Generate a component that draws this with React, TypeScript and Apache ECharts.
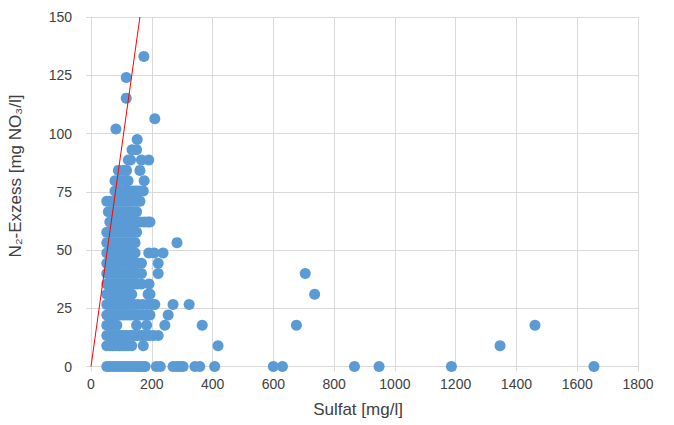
import React, { useEffect, useRef } from "react";
import * as echarts from "echarts";

// N2-Exzess levels (mg NO3/l), one per row of points
const rowLevels: number[] = [
  0, 8.86, 13.29, 17.72, 22.15, 26.58, 31.01, 35.44, 39.87, 44.3, 48.73, 53.16,
  57.59, 62.02, 66.45, 70.88, 75.31, 79.74, 84.17, 88.6, 93.03, 97.46, 101.89,
  106.32, 115.18, 124.04, 133.0,
];

// Sulfat (mg/l) of the points in each row above
const rowSulfat: number[][] = [
  [52, 62, 72, 82, 92, 102, 112, 122, 132, 142, 152, 162, 172, 178, 215, 228, 270, 282, 292, 303, 342, 358, 407, 600, 630, 867, 948, 1186, 1655],
  [52, 62, 72, 82, 92, 102, 112, 122, 134, 172, 418, 1346],
  [52, 62, 72, 82, 92, 102, 112, 122, 132, 142, 152, 162, 172, 182, 192, 205, 221],
  [52, 62, 72, 85, 150, 183, 243, 366, 676, 1461],
  [52, 62, 72, 82, 92, 102, 112, 122, 132, 142, 152, 162, 172, 183, 194, 254],
  [52, 62, 72, 82, 92, 102, 112, 122, 132, 142, 155, 170, 185, 200, 210, 270, 323],
  [52, 62, 72, 82, 92, 102, 112, 122, 134, 188, 194, 736],
  [52, 62, 72, 82, 92, 102, 112, 122, 132, 142, 152, 166, 191],
  [52, 62, 72, 82, 92, 102, 112, 122, 132, 142, 152, 166, 221, 705],
  [52, 62, 72, 82, 92, 102, 112, 122, 132, 142, 152, 166, 221],
  [52, 62, 72, 82, 92, 102, 112, 122, 132, 145, 190, 208, 237],
  [52, 62, 72, 82, 92, 102, 112, 122, 132, 145, 283],
  [52, 62, 72, 82, 92, 102, 112, 122, 132, 142, 150],
  [62, 72, 82, 92, 102, 112, 122, 132, 142, 152, 162, 175, 187, 194],
  [57, 67, 77, 87, 97, 107, 117, 127, 137, 150],
  [52, 62, 72, 82, 92, 102, 112, 122, 132, 142, 152, 161],
  [79, 89, 99, 109, 119, 129, 139, 149, 159, 172],
  [79, 95, 112, 122, 175],
  [90, 105, 117, 161],
  [123, 130, 166, 190],
  [135, 150],
  [152],
  [82],
  [210],
  [116],
  [116],
  [174],
];

// Red reference line (Sulfat, N2-Exzess)
const lineSulfat: number[] = [0, 161];
const lineN2: number[] = [0, 150];

const xTicks = { min: 0, max: 1800, interval: 200 };
const yTicks = { min: 0, max: 150, interval: 25 };

const xTitle = "Sulfat [mg/l]";
const yTitle = "N₂-Exzess [mg NO₃/l]";

export default function App() {
  const ref = useRef<HTMLDivElement>(null);

  useEffect(() => {
    if (!ref.current) return;
    const chart = echarts.init(ref.current, undefined, { renderer: "svg" });

    const points: number[][] = [];
    rowLevels.forEach((y, i) => {
      rowSulfat[i].forEach((x) => points.push([x, y]));
    });
    const lineData = lineSulfat.map((x, i) => [x, lineN2[i]]);

    const font = "'Liberation Sans', Arial, sans-serif";
    const textColor = "#404040";
    const gridColor = "#d9d9d9";

    chart.setOption({
      animation: false,
      grid: { left: 91, right: 36, top: 17, bottom: 58.5, containLabel: false },
      xAxis: {
        type: "value",
        min: xTicks.min,
        max: xTicks.max,
        interval: xTicks.interval,
        axisLine: { show: true, lineStyle: { color: gridColor, width: 1 } },
        axisTick: { show: true, length: 5, lineStyle: { color: gridColor } },
        splitLine: { show: true, lineStyle: { color: gridColor, width: 1 } },
        axisLabel: {
          color: textColor,
          fontSize: 14,
          fontFamily: font,
          margin: 10,
          formatter: (v: number) => String(v),
        },
      },
      yAxis: {
        type: "value",
        min: yTicks.min,
        max: yTicks.max,
        interval: yTicks.interval,
        axisLine: { show: true, lineStyle: { color: gridColor, width: 1 } },
        axisTick: { show: true, length: 5, lineStyle: { color: gridColor } },
        splitLine: { show: true, lineStyle: { color: gridColor, width: 1 } },
        axisLabel: {
          color: textColor,
          fontSize: 14,
          fontFamily: font,
          margin: 19,
          formatter: (v: number) => String(v),
        },
      },
      graphic: [
        {
          type: "text",
          x: 358,
          y: 409,
          style: {
            text: xTitle,
            fill: textColor,
            font: `17px ${font}`,
            textAlign: "center",
            textVerticalAlign: "middle",
          },
        },
        {
          type: "text",
          x: 15,
          y: 176,
          rotation: Math.PI / 2,
          style: {
            text: yTitle,
            fill: textColor,
            font: `17px ${font}`,
            textAlign: "center",
            textVerticalAlign: "middle",
          },
        },
      ],
      series: [
        {
          type: "scatter",
          data: points,
          symbol: "circle",
          symbolSize: 11,
          clip: false,
          itemStyle: { color: "#5b9bd5", opacity: 1 },
          z: 2,
        },
        {
          type: "line",
          data: lineData,
          showSymbol: false,
          symbol: "none",
          lineStyle: { color: "#ff0000", width: 1 },
          z: 3,
        },
      ],
    });

    return () => chart.dispose();
  }, []);

  return <div ref={ref} style={{ width: 674, height: 425, position: "absolute", left: 0, top: 0 }} />;
}
